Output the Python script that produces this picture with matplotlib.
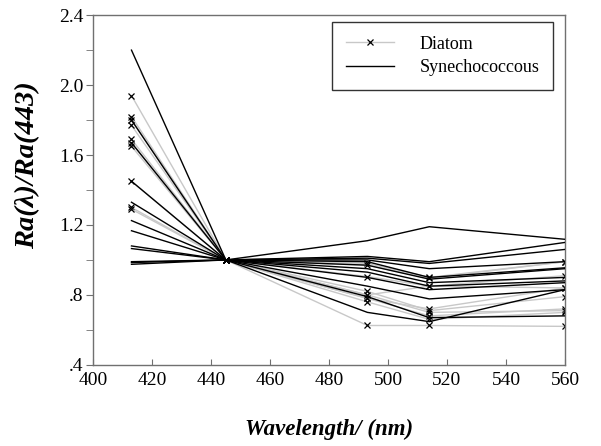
import matplotlib
matplotlib.use("Agg")
import matplotlib.pyplot as plt
import numpy as np

plt.rcParams["font.family"] = ["Liberation Serif", "DejaVu Serif"]

# Band positions as they sit on the axis of the picture
wavelength = [413, 445, 493, 514, 560]

# Diatom spectra, Ra(lambda)/Ra(443)
diatom = [
    [1.94, 1.0, 0.625, 0.625, 0.62],
    [1.82, 1.0, 0.76, 0.66, 0.70],
    [1.80, 1.0, 0.78, 0.68, 0.72],
    [1.77, 1.0, 0.80, 0.70, 0.71],
    [1.69, 1.0, 0.82, 0.71, 0.79],
    [1.67, 1.0, 0.78, 0.72, 0.84],
    [1.65, 1.0, 0.80, 0.85, 0.84],
    [1.45, 1.0, 0.905, 0.85, 0.91],
    [1.30, 1.0, 0.98, 0.90, 0.99],
    [1.29, 1.0, 0.97, 0.895, 0.99],
]

# Synechococcus spectra
synecho = [
    [2.20, 1.0, 0.70, 0.647, 0.83],
    [1.80, 1.0, 0.79, 0.67, 0.68],
    [1.67, 1.0, 0.85, 0.777, 0.83],
    [1.45, 1.0, 0.90, 0.83, 0.87],
    [1.33, 1.0, 0.93, 0.85, 0.88],
    [1.225, 1.0, 0.95, 0.87, 0.90],
    [1.167, 1.0, 0.97, 0.89, 0.95],
    [1.08, 1.0, 0.99, 0.90, 0.955],
    [1.065, 1.0, 1.00, 0.95, 0.99],
    [0.99, 1.0, 1.01, 0.98, 1.06],
    [0.985, 1.0, 1.02, 0.99, 1.10],
    [0.975, 1.0, 1.11, 1.19, 1.118],
]

y_major = [0.4, 0.8, 1.2, 1.6, 2.0, 2.4]
y_labels = [".4", ".8", "1.2", "1.6", "2.0", "2.4"]
y_minor = [0.6, 1.0, 1.4, 1.8, 2.2]
x_ticks = list(range(400, 561, 20))

fig = plt.figure(figsize=(6.01, 4.46), dpi=100)
ax = fig.add_axes([0.155, 0.182, 0.785, 0.784])

for i, row in enumerate(diatom):
    ax.plot(wavelength, row, color="#c8c8c8", lw=1.0, marker="x", ms=5,
            mec="black", mew=0.9, label="Diatom" if i == 0 else None, zorder=2)
for i, row in enumerate(synecho):
    ax.plot(wavelength, row, color="black", lw=1.0,
            label="Synechococcous" if i == 0 else None, zorder=3)

ax.set_xlim(400, 560)
ax.set_ylim(0.4, 2.4)
ax.set_xticks(x_ticks)
ax.set_yticks(y_major)
ax.set_yticklabels(y_labels)
ax.set_yticks(y_minor, minor=True)
ax.tick_params(axis="y", which="both", direction="out", length=5, labelsize=14,
               color="#707070", pad=2)
ax.tick_params(axis="x", direction="in", length=4, labelsize=14, color="#707070",
               pad=5)

for s in ax.spines.values():
    s.set_color("#707070")
    s.set_linewidth(1.0)

ax.set_xlabel("Wavelength/ (nm)", fontsize=16.5, fontweight="bold", style="italic")
ax.xaxis.set_label_coords(0.5, -0.155)
ax.set_ylabel("Ra(λ)/Ra(443)", fontsize=20.5, fontweight="bold", style="italic")
ax.yaxis.set_label_coords(-0.112, 0.57)

leg = ax.legend(loc="upper right", fontsize=13, frameon=True, fancybox=False,
                edgecolor="black", handlelength=2.7, handletextpad=1.4,
                borderpad=0.75, labelspacing=0.35, borderaxespad=0,
                bbox_to_anchor=(0.975, 0.98))
leg.get_frame().set_linewidth(1.0)

fig.savefig("out.png", dpi=100)
